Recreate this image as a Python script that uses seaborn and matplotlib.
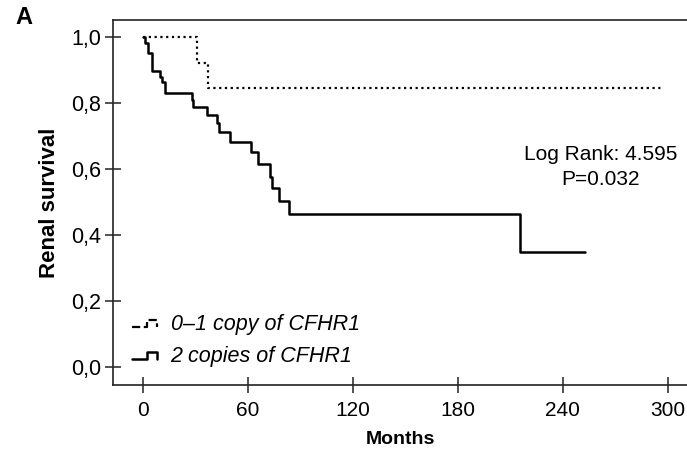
import numpy as np
import matplotlib
matplotlib.use("Agg")
import matplotlib.pyplot as plt
import seaborn as sns
from matplotlib.legend_handler import HandlerLine2D
from matplotlib.lines import Line2D
from matplotlib.ticker import FuncFormatter

# Kaplan-Meier curves (months, survival after each drop)
months_two = [0, 1.1, 3.0, 5.1, 9.7, 10.9, 12.6, 27.8, 28.6, 36.7, 42.5, 43.6,
              49.7, 61.7, 65.5, 72.6, 73.5, 77.7, 83.6, 215.4, 252.6]
surv_two = [1.0, 0.983, 0.951, 0.898, 0.880, 0.865, 0.829, 0.809, 0.787, 0.764,
            0.738, 0.711, 0.681, 0.651, 0.614, 0.577, 0.542, 0.504, 0.464, 0.348, 0.348]

months_one = [0, 30.7, 37.0, 298.0]
surv_one = [1.0, 0.920, 0.845, 0.845]

label_one = "0\u20131 copy of CFHR1"
label_two = "2 copies of CFHR1"
x_ticks = [0, 60, 120, 180, 240, 300]
y_ticks = [0.0, 0.2, 0.4, 0.6, 0.8, 1.0]

sns.set_style("white")
plt.rcParams['font.family'] = ['Liberation Sans', 'DejaVu Sans']
plt.rcParams['text.color'] = 'black'
plt.rcParams['axes.labelcolor'] = 'black'
plt.rcParams['xtick.color'] = 'black'
plt.rcParams['ytick.color'] = 'black'


class StepHandler(HandlerLine2D):
    # little KM-style step glyph for the legend
    def create_artists(self, legend, orig_handle, xdescent, ydescent,
                       width, height, fontsize, trans):
        w, h = width, height
        xs = np.array([0.0, 0.55, 0.55, 0.9, 0.9]) * w - xdescent
        ys = np.array([0.2, 0.2, 0.7, 0.7, 0.2]) * h - ydescent
        line = Line2D(xs, ys, color=orig_handle.get_color(),
                      linestyle=orig_handle.get_linestyle(),
                      linewidth=orig_handle.get_linewidth())
        line.set_transform(trans)
        return [line]


fig = plt.figure(figsize=(6.87, 4.55), dpi=100)
ax = fig.add_axes([0.1645, 0.154, 0.8355, 0.802])

sns.lineplot(x=months_one, y=surv_one, ax=ax, drawstyle='steps-post',
             estimator=None, sort=False, color='black', linewidth=1.6,
             linestyle=(0, (1, 1.6)), label=label_one)
sns.lineplot(x=months_two, y=surv_two, ax=ax, drawstyle='steps-post',
             estimator=None, sort=False, color='black', linewidth=1.8,
             label=label_two)

ax.set_xlim(-17.1, 310.9)
ax.set_ylim(-0.0545, 1.0515)
ax.set_xticks(x_ticks)
ax.set_yticks(y_ticks)
ax.yaxis.set_major_formatter(FuncFormatter(lambda v, p: f"{v:.1f}".replace('.', ',')))
ax.tick_params(axis='both', direction='inout', length=11, width=1.1,
               labelsize=15, color='#222222', left=True, bottom=True)
ax.tick_params(axis='y', labelsize=15.5, pad=3)
ax.tick_params(axis='x', pad=6)
for side in ['left', 'top', 'bottom']:
    ax.spines[side].set_visible(True)
    ax.spines[side].set_color('#222222')
    ax.spines[side].set_linewidth(1.2)
ax.spines['right'].set_visible(False)

ax.set_xlabel("Months", fontsize=14, fontweight='bold', labelpad=8)
ax.set_ylabel("Renal survival", fontsize=16, fontweight='bold', labelpad=8)

ax.text(261.4, 0.627, "Log Rank: 4.595", ha='center', va='baseline', fontsize=15)
ax.text(261.4, 0.552, "P=0.032", ha='center', va='baseline', fontsize=15)

handles, labels = ax.get_legend_handles_labels()
ax.legend(handles, labels, loc='lower left', bbox_to_anchor=(-0.001, -0.005),
          frameon=False, handler_map={Line2D: StepHandler()},
          prop={'style': 'italic', 'size': 15.5}, handlelength=1.3,
          handletextpad=0.5, labelspacing=0.52)

fig.text(24 / 687, 1 - 18 / 455, "A", fontsize=17, fontweight='bold',
         ha='center', va='center')

fig.savefig("out.png", dpi=100)
